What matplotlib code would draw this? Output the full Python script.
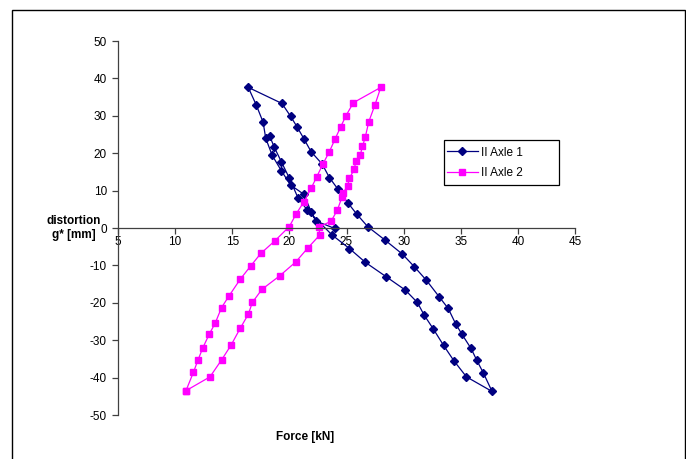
import matplotlib
matplotlib.use("Agg")
import matplotlib.pyplot as plt
from matplotlib.patches import Rectangle

plt.rcParams['font.family'] = ['Liberation Sans', 'DejaVu Sans']
plt.rcParams['axes.unicode_minus'] = False

# Axle 1 (navy) force [kN] and distortion [mm]
axle1_force = [23.95, 22.3, 21.9, 21.27, 20.1, 19.3, 18.5, 17.93, 17.7, 17.1, 16.4,
               19.35, 20.1, 20.7, 21.3, 21.9, 22.87, 23.5, 24.27, 25.1, 25.9, 26.86,
               28.4, 29.9, 30.95, 32.0, 33.1, 33.9, 34.55, 35.1, 35.9, 36.4, 36.97, 37.74,
               35.5, 34.4, 33.5, 32.6, 31.8, 31.2, 30.15, 28.46, 26.66, 25.26, 23.75,
               21.56, 20.75, 20.0, 19.3, 18.66, 18.28]
axle1_dist = [-0.1, 1.9, 4.4, 9.0, 11.5, 15.3, 19.4, 24.0, 28.3, 32.9, 37.6,
              33.3, 29.9, 26.9, 23.7, 20.4, 17.1, 13.5, 10.3, 6.8, 3.7, 0.35,
              -3.3, -7.0, -10.4, -14.0, -18.35, -21.5, -25.6, -28.4, -32.2, -35.35, -38.7, -43.7,
              -39.8, -35.5, -31.4, -27.0, -23.3, -19.9, -16.6, -13.0, -9.2, -5.5, -1.9,
              4.8, 8.1, 13.3, 17.7, 21.7, 24.6]

# Axle 2 (magenta)
axle2_force = [10.95, 11.6, 12.0, 12.43, 13.0, 13.5, 14.06, 14.73, 15.7, 16.6, 17.5, 18.74,
               20.0, 20.6, 21.27, 21.9, 22.4, 22.95, 23.5, 24.0, 24.5, 24.95, 25.6, 28.0,
               27.5, 26.95, 26.65, 26.4, 26.2, 25.8, 25.7, 25.25, 25.1, 24.7, 24.6, 24.2,
               23.65, 22.6, 22.65, 21.6, 20.55, 19.15, 17.6, 16.76, 16.4, 15.7, 14.9, 14.06,
               13.05, 10.95]
axle2_dist = [-43.5, -38.6, -35.3, -32.0, -28.3, -25.5, -21.3, -18.1, -13.7, -10.2, -6.8, -3.4,
              0.4, 3.8, 7.0, 10.6, 13.7, 17.2, 20.4, 23.8, 27.1, 30.0, 33.5, 37.6,
              33.0, 28.4, 24.4, 21.8, 19.5, 17.8, 15.8, 13.3, 11.3, 9.3, 8.2, 4.8,
              1.8, 0.3, -1.9, -5.4, -9.1, -12.8, -16.4, -19.9, -23.1, -26.8, -31.3, -35.3,
              -39.8, -43.5]

xticks = [5, 10, 15, 20, 25, 30, 35, 40, 45]
yticks = [-50, -40, -30, -20, -10, 0, 10, 20, 30, 40, 50]

W, H = 686, 459
fig = plt.figure(figsize=(W / 100, H / 100), dpi=100)
fig.patches.append(Rectangle((12 / W, -0.05), (685 - 12) / W, 1.05 - 10 / H,
                             transform=fig.transFigure, fill=False,
                             edgecolor='black', linewidth=1.0))

ax = fig.add_axes([118 / W, 1 - 415 / H, (575 - 118) / W, (415 - 41) / H])
ax.plot(axle1_force, axle1_dist, color='#000080', marker='D', markersize=4.5,
        linewidth=0.9, label='II Axle 1')
ax.plot(axle2_force, axle2_dist, color='#FF00FF', marker='s', markersize=5,
        linewidth=0.9, label='II Axle 2')

ax.set_xlim(5, 45)
ax.set_ylim(-50, 50)
ax.set_xticks(xticks)
ax.set_yticks(yticks)
ax.spines['top'].set_visible(False)
ax.spines['right'].set_visible(False)
ax.spines['bottom'].set_position(('data', 0))
for s in ('left', 'bottom'):
    ax.spines[s].set_color('#404040')
    ax.spines[s].set_linewidth(0.9)
ax.tick_params(axis='both', direction='out', length=4, width=0.9,
               colors='#404040', labelcolor='black', labelsize=8.5)
ax.tick_params(axis='x', pad=2)
ax.tick_params(axis='y', pad=4)

fig.text(74 / W, 1 - 228 / H, 'distortion\ng* [mm]', ha='center', va='center',
         fontsize=8.5, fontweight='bold', linespacing=1.3)
fig.text(305 / W, 1 - 437 / H, 'Force [kN]', ha='center', va='center',
         fontsize=8.5, fontweight='bold')

# legend box (Excel-style, wider than content)
fig.patches.append(Rectangle((444 / W, 1 - 185 / H), (559 - 444) / W, (185 - 140) / H,
                             transform=fig.transFigure, fill=True, facecolor='white',
                             edgecolor='black', linewidth=0.9, zorder=5))
leg = fig.legend(*ax.get_legend_handles_labels(), loc='center left',
                 bbox_to_anchor=(447 / W, 1 - 163 / H),
                 frameon=False, fontsize=8.5, handlelength=2.6,
                 borderpad=0, labelspacing=0.75, handletextpad=0.25, borderaxespad=0)
leg.set_zorder(6)

fig.savefig('out.png', dpi=100)
